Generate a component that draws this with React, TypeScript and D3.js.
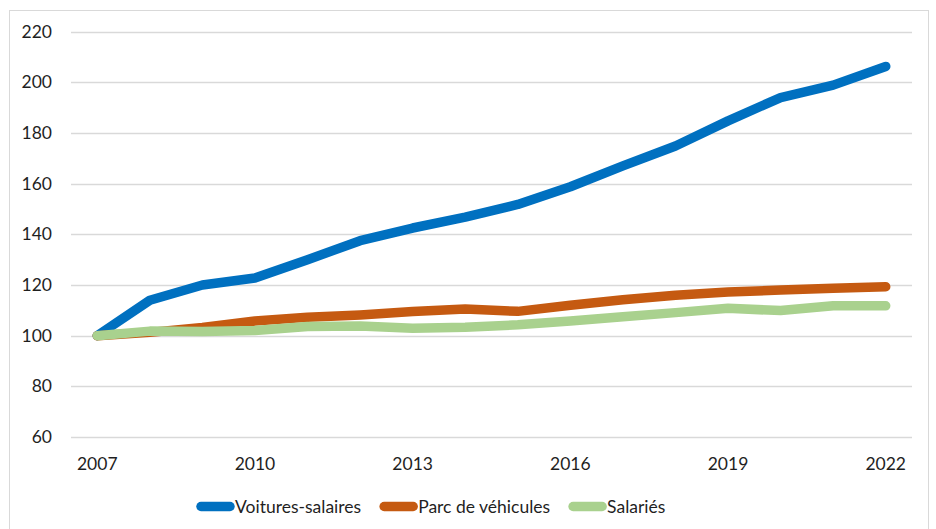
import React, { useEffect, useRef } from "react";
import * as d3 from "d3";

const years = [2007, 2008, 2009, 2010, 2011, 2012, 2013, 2014, 2015, 2016, 2017, 2018, 2019, 2020, 2021, 2022];
const voitures = [100, 114, 120, 122.8, 130, 137.5, 142.5, 146.8, 151.8, 158.8, 167, 174.9, 184.8, 194, 198.9, 206.3];
const parc = [100, 101.3, 103.2, 105.8, 107.3, 108.2, 109.5, 110.5, 109.6, 112, 114.2, 116, 117.2, 118, 118.7, 119.3];
const salaries = [100, 101.8, 101.6, 102, 103.6, 103.8, 102.9, 103.3, 104.3, 105.8, 107.5, 109.1, 110.8, 109.9, 111.8, 111.8];
const yTicks = [60, 80, 100, 120, 140, 160, 180, 200, 220];
const xTickYears = [2007, 2010, 2013, 2016, 2019, 2022];
const seriesNames = ["Voitures-salaires", "Parc de véhicules", "Salariés"];
const seriesColors = ["#0070C0", "#C55A11", "#A9D18E"];

const W = 936;
const H = 529;
const FONT = "Lato, 'Open Sans', sans-serif";

export default function App() {
  const ref = useRef<SVGSVGElement>(null);

  useEffect(() => {
    const svg = d3.select(ref.current);
    svg.selectAll("*").remove();

    const plotLeft = 71, plotRight = 912, plotTop = 31.7, plotBottom = 437;

    // frame
    svg.append("rect")
      .attr("x", 9.5).attr("y", 10.5).attr("width", 919).attr("height", 530)
      .attr("fill", "white").attr("stroke", "#d9d9d9").attr("stroke-width", 1);

    const x = d3.scaleBand<number>().domain(years).range([plotLeft, plotRight]);
    const xc = (yr: number) => (x(yr) as number) + x.bandwidth() / 2;
    const y = d3.scaleLinear().domain([60, 220]).range([plotBottom, plotTop]);

    // grid
    svg.append("g").selectAll("line").data(yTicks).join("line")
      .attr("x1", plotLeft).attr("x2", plotRight)
      .attr("y1", d => Math.round(y(d)) + 0.5).attr("y2", d => Math.round(y(d)) + 0.5)
      .attr("stroke", "#d9d9d9").attr("stroke-width", 1.3);

    // y labels
    svg.append("g").selectAll("text").data(yTicks).join("text")
      .attr("x", 52).attr("y", d => y(d)).attr("dy", "0.35em")
      .attr("text-anchor", "end").attr("font-family", FONT).attr("font-size", 17.5)
      .attr("fill", "#1f1f1f").text(d => d);

    // x labels
    svg.append("g").selectAll("text").data(xTickYears).join("text")
      .attr("x", d => xc(d)).attr("y", 464).attr("dy", "0.35em")
      .attr("text-anchor", "middle").attr("font-family", FONT).attr("font-size", 17.5)
      .attr("fill", "#1f1f1f").text(d => d);

    const line = d3.line<number>().x((_, i) => xc(years[i])).y(d => y(d));
    const allSeries = [voitures, parc, salaries];
    allSeries.forEach((s, i) => {
      svg.append("path").attr("d", line(s) as string)
        .attr("fill", "none").attr("stroke", seriesColors[i]).attr("stroke-width", 9.5)
        .attr("stroke-linecap", "round").attr("stroke-linejoin", "round");
    });

    // legend
    let lx = 197;
    const ly = 506.5;
    seriesNames.forEach((name, i) => {
      const g = svg.append("g");
      g.append("line").attr("x1", lx + 4).attr("x2", lx + 33).attr("y1", ly).attr("y2", ly)
        .attr("stroke", seriesColors[i]).attr("stroke-width", 9.5).attr("stroke-linecap", "round");
      const t = g.append("text").attr("x", lx + 38).attr("y", ly).attr("dy", "0.35em")
        .attr("font-family", FONT).attr("font-size", 17.5).attr("fill", "#1f1f1f").text(name);
      const w = (t.node() as SVGTextElement).getComputedTextLength();
      lx = lx + 38 + w + 19;
    });
  }, []);

  return (
    <svg ref={ref} width={W} height={H} style={{ position: "absolute", left: 0, top: 0, display: "block" }} />
  );
}
